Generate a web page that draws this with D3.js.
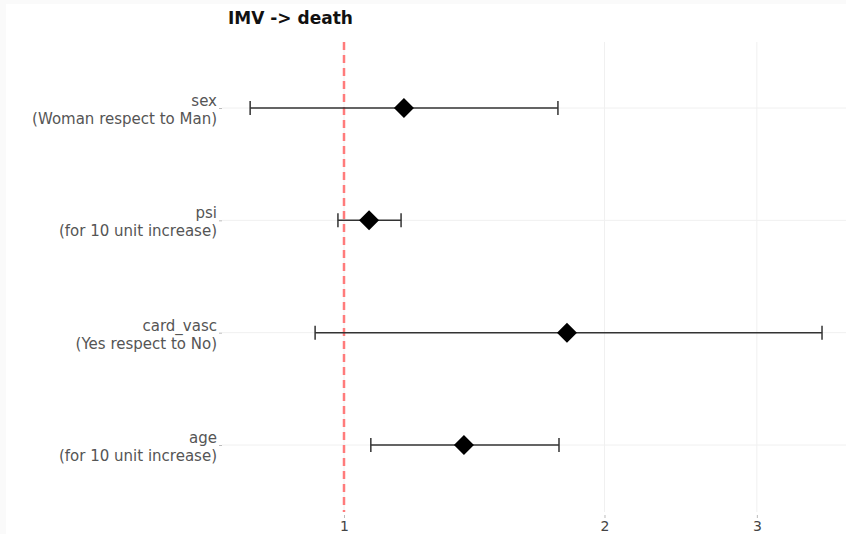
<!DOCTYPE html>
<html><head><meta charset="utf-8">
<script src="https://cdn.jsdelivr.net/npm/d3@7"></script>
<style>body{margin:0;background:#fff;} svg{display:block;}</style>
</head><body>
<svg id="c" width="846" height="534"></svg>
<script>
const title = "IMV -> death";
const categories = ["sex", "psi", "card_vasc", "age"];
const subLabels = ["(Woman respect to Man)", "(for 10 unit increase)", "(Yes respect to No)", "(for 10 unit increase)"];
const estimates = [1.173, 1.069, 1.81, 1.376];
const lowers = [0.779, 0.984, 0.926, 1.074];
const uppers = [1.767, 1.164, 3.568, 1.772];
const xTicks = [1, 2, 3];
const refValue = 1;

(function () {
const svg = d3.select("#c");
const W = 846, H = 534;
svg.append("rect").attr("width", W).attr("height", H).attr("fill", "#fafafa");
svg.append("rect").attr("x", 6).attr("y", 4).attr("width", W - 6).attr("height", H - 4).attr("fill", "#fff");

const pLeft = 222, pRight = 846, pTop = 42, pBottom = 512;
// log scale calibrated: 1 -> 344, 2 -> 604.5
const k = 375.8;
const x = d3.scaleLog()
  .domain([Math.exp((pLeft - 344) / k), Math.exp((pRight - 344) / k)])
  .range([pLeft, pRight]);

const y = d3.scalePoint().domain(categories).range([108, 445]);

const font = "DejaVu Sans, Verdana, sans-serif";

// vertical grid
svg.append("g").selectAll("line").data(xTicks).join("line")
  .attr("x1", d => x(d)).attr("x2", d => x(d))
  .attr("y1", pTop).attr("y2", pBottom)
  .attr("stroke", "#f0f0f0").attr("stroke-width", 1);
// horizontal grid
svg.append("g").selectAll("line").data(categories).join("line")
  .attr("x1", pLeft).attr("x2", pRight)
  .attr("y1", d => y(d)).attr("y2", d => y(d))
  .attr("stroke", "#f0f0f0").attr("stroke-width", 1);

// x axis
const xAxis = d3.axisBottom(x).tickValues(xTicks).tickFormat(d3.format("d")).tickSize(3).tickPadding(3);
const gx = svg.append("g").attr("transform", `translate(0,${pBottom + 3})`).call(xAxis);
gx.select(".domain").remove();
gx.selectAll(".tick line").attr("stroke", "#bbb");
gx.selectAll(".tick text").attr("fill", "#444").style("font-family", font).style("font-size", "14px");

// y axis
const yAxis = d3.axisLeft(y).tickSize(3).tickFormat("");
const gy = svg.append("g").attr("transform", `translate(${pLeft},0)`).call(yAxis);
gy.select(".domain").remove();
gy.selectAll(".tick line").attr("stroke", "#bbb");

const lab = svg.append("g").selectAll("text").data(categories).join("text")
  .attr("x", pLeft - 5).attr("y", d => y(d))
  .attr("text-anchor", "end").attr("fill", "#555")
  .style("font-family", font).style("font-size", "15px");
lab.append("tspan").attr("x", pLeft - 5).attr("dy", "-2").text(d => d);
lab.append("tspan").attr("x", pLeft - 5).attr("dy", "18").text((d, i) => subLabels[i]);

// reference line
svg.append("line").attr("x1", x(refValue)).attr("x2", x(refValue))
  .attr("y1", pTop).attr("y2", pBottom)
  .attr("stroke", "#ff7b7b").attr("stroke-width", 2.5).attr("stroke-dasharray", "8,5");

// error bars
const g = svg.append("g");
categories.forEach((c, i) => {
  const yy = y(c);
  g.append("line").attr("x1", x(lowers[i])).attr("x2", x(uppers[i])).attr("y1", yy).attr("y2", yy)
    .attr("stroke", "#333").attr("stroke-width", 1.5);
  [lowers[i], uppers[i]].forEach(v => {
    g.append("line").attr("x1", x(v)).attr("x2", x(v)).attr("y1", yy - 7).attr("y2", yy + 7)
      .attr("stroke", "#333").attr("stroke-width", 1.5);
  });
  g.append("path").attr("d", d3.symbol(d3.symbolSquare, 200)())
    .attr("transform", `translate(${x(estimates[i])},${yy}) rotate(45)`)
    .attr("fill", "#000");
});

svg.append("text").attr("x", 228).attr("y", 24).text(title)
  .attr("fill", "#111").style("font-family", font).style("font-size", "17px").style("font-weight", "bold");
})();
</script>
</body></html>
